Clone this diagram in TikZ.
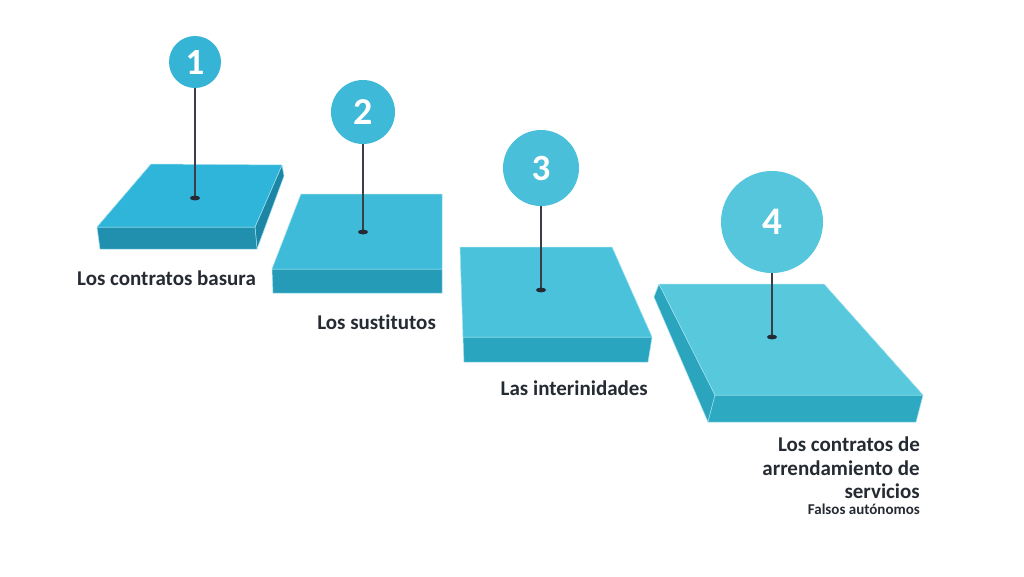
\documentclass[tikz,border=0pt]{standalone}
\usepackage{fontspec}
\setmainfont{Carlito}[Ligatures=NoCommon]
\usetikzlibrary{shapes.geometric}
\definecolor{txt}{HTML}{262B33}
\definecolor{stem}{HTML}{3A3F47}
\definecolor{edgehl}{HTML}{9FE0EE}
\definecolor{topA}{HTML}{2FB4DA}
\definecolor{topB}{HTML}{3DBBD9}
\definecolor{topC}{HTML}{4AC2DC}
\definecolor{topD}{HTML}{58C8DD}
\definecolor{frA}{HTML}{2190AE}
\definecolor{frB}{HTML}{259BB8}
\definecolor{frC}{HTML}{2AA5BF}
\definecolor{frD}{HTML}{2DAAC1}
\definecolor{sdA}{HTML}{1E86A5}
\definecolor{sdD}{HTML}{2BA4BD}
\definecolor{cA}{HTML}{36B4D6}
\definecolor{cB}{HTML}{3EB9D7}
\definecolor{cC}{HTML}{49BFD9}
\definecolor{cD}{HTML}{56C6DC}
\tikzset{
  face/.style={draw=edgehl, line width=0.5pt, line join=round},
  pin/.style={circle, inner sep=0pt, text=white, font=\bfseries},
  stemline/.style={draw=stem, line width=1.1pt},
  pindot/.style={fill=txt, draw=none},
  lbl/.style={text=txt, font=\bfseries\fontsize{21}{23.5}\selectfont, inner sep=0pt, align=right},
  sublbl/.style={text=txt, font=\bfseries\fontsize{15}{17}\selectfont, inner sep=0pt, align=right}
}
\begin{document}
\begin{tikzpicture}[x=1pt, y=-1pt]
\useasboundingbox[fill=white] (0,0) rectangle (1024,576);

% Platform 1
\fill[face, fill=sdA] (282,165) -- (284,176) -- (257,249) -- (255,227) -- cycle;
\fill[face, fill=frA] (97,227) -- (255,227) -- (257,249) -- (100,249) -- cycle;
\fill[face, fill=topA] (151,164) -- (282,165) -- (255,227) -- (97,227) -- cycle;

% Platform 2
\fill[face, fill=frB] (272,269) -- (442,269) -- (442,293) -- (273,293) -- cycle;
\fill[face, fill=topB] (301,194) -- (442,194) -- (442,269) -- (272,269) -- cycle;

% Platform 3
\fill[face, fill=frC] (463,337) -- (652,337) -- (648,362) -- (464,362) -- cycle;
\fill[face, fill=topC] (460,247) -- (612,247) -- (652,337) -- (463,337) -- cycle;

% Platform 4
\fill[face, fill=sdD] (659,284) -- (715,395) -- (708,422) -- (654,297) -- cycle;
\fill[face, fill=frD] (715,395) -- (923,395) -- (916,422) -- (708,422) -- cycle;
\fill[face, fill=topD] (659,284) -- (824,284) -- (923,395) -- (715,395) -- cycle;

% dots
\coordinate (d1) at (195,198);
\coordinate (d2) at (363,232);
\coordinate (d3) at (541,290);
\coordinate (d4) at (772,337);

% pins
\node[pin, fill=cA, minimum size=52pt, font=\bfseries\fontsize{37}{37}\selectfont] (c1) at (195,62) {1};
\node[pin, fill=cB, minimum size=64pt, font=\bfseries\fontsize{38}{38}\selectfont] (c2) at (363,112) {2};
\node[pin, fill=cC, minimum size=76pt, font=\bfseries\fontsize{37}{37}\selectfont] (c3) at (541,168) {3};
\node[pin, fill=cD, minimum size=102pt, font=\bfseries\fontsize{39}{39}\selectfont] (c4) at (772,222) {4};

\draw[stemline] (c1.south) -- (d1);
\draw[stemline] (c2.south) -- (d2);
\draw[stemline] (c3.south) -- (d3);
\draw[stemline] (c4.south) -- (d4);

\fill[pindot] (d1) ellipse (5pt and 2.4pt);
\fill[pindot] (d2) ellipse (5pt and 2.4pt);
\fill[pindot] (d3) ellipse (5pt and 2.4pt);
\fill[pindot] (d4) ellipse (5pt and 2.4pt);

% labels
\node[lbl, anchor=base east] (l1) at (256,285) {Los contratos basura};
\node[lbl, anchor=base east] (l2) at (436,329) {Los sustitutos};
\node[lbl, anchor=base east] (l3) at (648,395) {Las interinidades};
\node[lbl, anchor=north east] (l4) at (920,437) {Los contratos de\\arrendamiento de\\servicios};
\node[sublbl, anchor=base east] (l5) at (920,514) {Falsos autónomos};
\end{tikzpicture}
\end{document}
